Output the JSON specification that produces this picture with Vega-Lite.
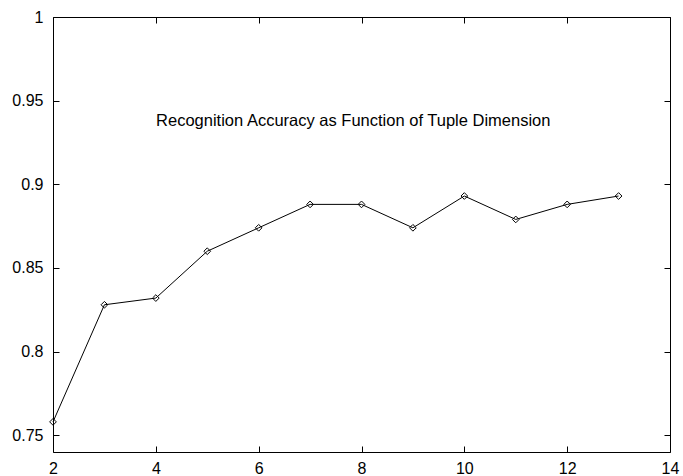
{
  "$schema": "https://vega.github.io/schema/vega-lite/v6.json",
  "autosize": "none",
  "width": 617,
  "height": 435,
  "padding": {"left": 53, "top": 17, "right": 13, "bottom": 24},
  "background": "white",
  "config": {
    "view": {"stroke": "black", "strokeWidth": 1},
    "font": "Liberation Sans",
    "axis": {
      "grid": false,
      "domain": false,
      "tickColor": "black",
      "tickSize": -6,
      "labelColor": "black",
      "labelFont": "Liberation Sans",
      "labelFontSize": 16,
      "title": null
    }
  },
  "datasets": {
    "acc": [
      {"dim": 2, "accuracy": 0.758},
      {"dim": 3, "accuracy": 0.828},
      {"dim": 4, "accuracy": 0.832},
      {"dim": 5, "accuracy": 0.860},
      {"dim": 6, "accuracy": 0.874},
      {"dim": 7, "accuracy": 0.888},
      {"dim": 8, "accuracy": 0.888},
      {"dim": 9, "accuracy": 0.874},
      {"dim": 10, "accuracy": 0.893},
      {"dim": 11, "accuracy": 0.879},
      {"dim": 12, "accuracy": 0.888},
      {"dim": 13, "accuracy": 0.893}
    ],
    "lbl": [
      {"dim": 7.84, "accuracy": 0.938, "text": "Recognition Accuracy as Function of Tuple Dimension"}
    ]
  },
  "layer": [
    {
      "data": {"name": "acc"},
      "mark": {
        "type": "line", "color": "black", "strokeWidth": 1,
        "point": {"shape": "diamond", "filled": false, "color": "black", "strokeWidth": 1, "size": 45, "opacity": 1}
      },
      "encoding": {
        "x": {
          "field": "dim", "type": "quantitative",
          "scale": {"domain": [2, 14], "nice": false, "zero": false},
          "axis": {"values": [2, 4, 6, 8, 10, 12, 14], "labelPadding": 14, "labelFlush": false}
        },
        "y": {
          "field": "accuracy", "type": "quantitative",
          "scale": {"domain": [0.74, 1], "nice": false, "zero": false},
          "axis": {"values": [0.75, 0.8, 0.85, 0.9, 0.95, 1], "format": ".2~f", "labelPadding": 16, "labelFlush": false}
        }
      }
    },
    {
      "data": {"name": "acc"},
      "mark": {"type": "point", "opacity": 0},
      "encoding": {
        "x": {"field": "dim", "type": "quantitative", "axis": {"orient": "top", "values": [2, 4, 6, 8, 10, 12, 14], "labels": false}},
        "y": {"field": "accuracy", "type": "quantitative", "axis": {"orient": "right", "values": [0.75, 0.8, 0.85, 0.9, 0.95, 1], "labels": false}}
      }
    },
    {
      "data": {"name": "lbl"},
      "mark": {"type": "text", "font": "Liberation Sans", "fontSize": 16.5, "color": "black", "align": "center", "baseline": "middle"},
      "encoding": {
        "x": {"field": "dim", "type": "quantitative", "axis": null},
        "y": {"field": "accuracy", "type": "quantitative", "axis": null},
        "text": {"field": "text"}
      }
    }
  ],
  "resolve": {"axis": {"x": "independent", "y": "independent"}}
}
